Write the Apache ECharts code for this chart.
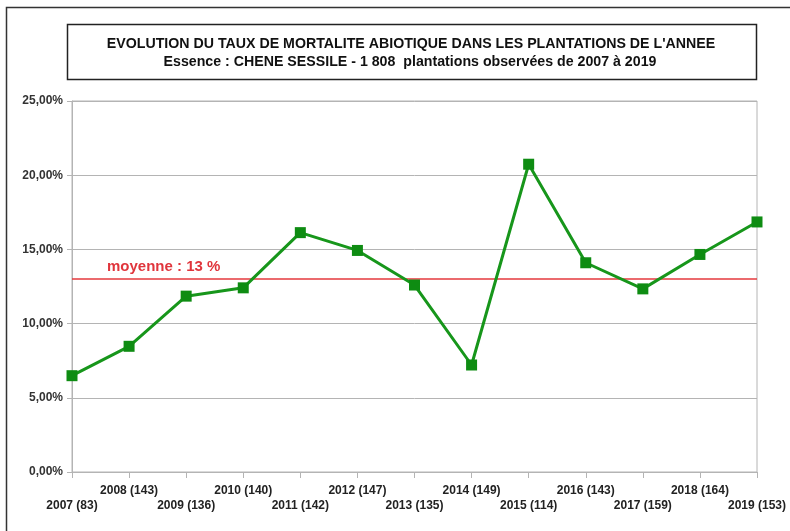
<!DOCTYPE html>
<html>
<head>
<meta charset="utf-8">
<script src="https://cdn.jsdelivr.net/npm/echarts@6/dist/echarts.min.js"></script>
<style>
  html, body { margin: 0; padding: 0; background: #fff; }
  #chart { width: 790px; height: 531px; }
</style>
</head>
<body>
<div id="chart"></div>
<script>
// Years of plantation, with the number of plantations observed in brackets
const categories = [
  '2007 (83)', '2008 (143)', '2009 (136)', '2010 (140)', '2011 (142)',
  '2012 (147)', '2013 (135)', '2014 (149)', '2015 (114)', '2016 (143)',
  '2017 (159)', '2018 (164)', '2019 (153)'
];
// Abiotic mortality rate per year (%)
const mortality = [6.49, 8.47, 11.85, 12.41, 16.13, 14.93, 12.6, 7.21, 20.74, 14.10, 12.34, 14.66, 16.85];
// Mean over the whole period (%)
const meanRate = 13;
// Value axis range and step (%)
const yMin = 0, yMax = 25, yStep = 5;

const titleLines = [
  "EVOLUTION DU TAUX DE MORTALITE ABIOTIQUE DANS LES PLANTATIONS DE L'ANNEE",
  "Essence : CHENE SESSILE - 1 808  plantations observées de 2007 à 2019"
];

const FONT = '"Liberation Sans", Arial, sans-serif';
const chart = echarts.init(document.getElementById('chart'), null, { renderer: 'canvas' });

chart.setOption({
  animation: false,
  backgroundColor: '#fff',
  textStyle: { fontFamily: FONT },
  graphic: [
    { type: 'rect', shape: { x: 6.5, y: 7.5, width: 820, height: 600 },
      style: { fill: 'none', stroke: '#333', lineWidth: 1.5 }, silent: true },
    { type: 'rect', shape: { x: 67.5, y: 24.5, width: 689, height: 55 },
      style: { fill: '#fff', stroke: '#222', lineWidth: 1.5 }, silent: true },
    { type: 'text', x: 411, y: 44,
      style: { text: titleLines[0], fill: '#111', font: 'bold 14.2px ' + FONT,
               textAlign: 'center', textVerticalAlign: 'middle' } },
    { type: 'text', x: 410, y: 62,
      style: { text: titleLines[1], fill: '#111', font: 'bold 14.2px ' + FONT,
               textAlign: 'center', textVerticalAlign: 'middle' } }
  ],
  grid: {
    left: 72, right: 33, top: 101, bottom: 59,
    show: true, borderColor: '#b4b4b4', borderWidth: 1, backgroundColor: 'transparent'
  },
  xAxis: {
    type: 'category',
    data: categories,
    boundaryGap: false,
    axisLine: { lineStyle: { color: '#b4b4b4', width: 1 } },
    axisTick: { show: true, alignWithLabel: true, length: 6, interval: 0,
                lineStyle: { color: '#b4b4b4' } },
    axisLabel: {
      interval: 0, hideOverlap: false, margin: 11,
      color: '#222', fontWeight: 'bold', fontSize: 12, lineHeight: 15,
      formatter: (v, i) => (i % 2 === 0 ? '\n' + v : v)
    },
    splitLine: { show: false }
  },
  yAxis: {
    type: 'value',
    min: yMin, max: yMax, interval: yStep,
    axisLine: { show: true, lineStyle: { color: '#b4b4b4', width: 1 } },
    axisTick: { show: true, length: 5, lineStyle: { color: '#b4b4b4' } },
    axisLabel: {
      margin: 9, color: '#333', fontWeight: 'bold', fontSize: 12,
      formatter: v => v.toFixed(2).replace('.', ',') + '%'
    },
    splitLine: { show: true, lineStyle: { color: '#b4b4b4', width: 1 } }
  },
  series: [{
    type: 'line',
    data: mortality,
    symbol: 'rect',
    symbolSize: 11,
    showAllSymbol: true,
    lineStyle: { color: '#17961b', width: 3 },
    itemStyle: { color: '#0e8c12' },
    z: 3,
    markLine: {
      silent: true,
      symbol: 'none',
      data: [{ yAxis: meanRate }],
      lineStyle: { color: '#e5383c', width: 1.5, type: 'solid' },
      label: {
        position: 'insideStartTop',
        formatter: 'moyenne : ' + meanRate + ' %',
        color: '#e0353c', fontWeight: 'bold', fontSize: 15,
        padding: [0, 0, 0, 30], distance: 5
      },
      z: 2
    }
  }]
});
</script>
</body>
</html>
